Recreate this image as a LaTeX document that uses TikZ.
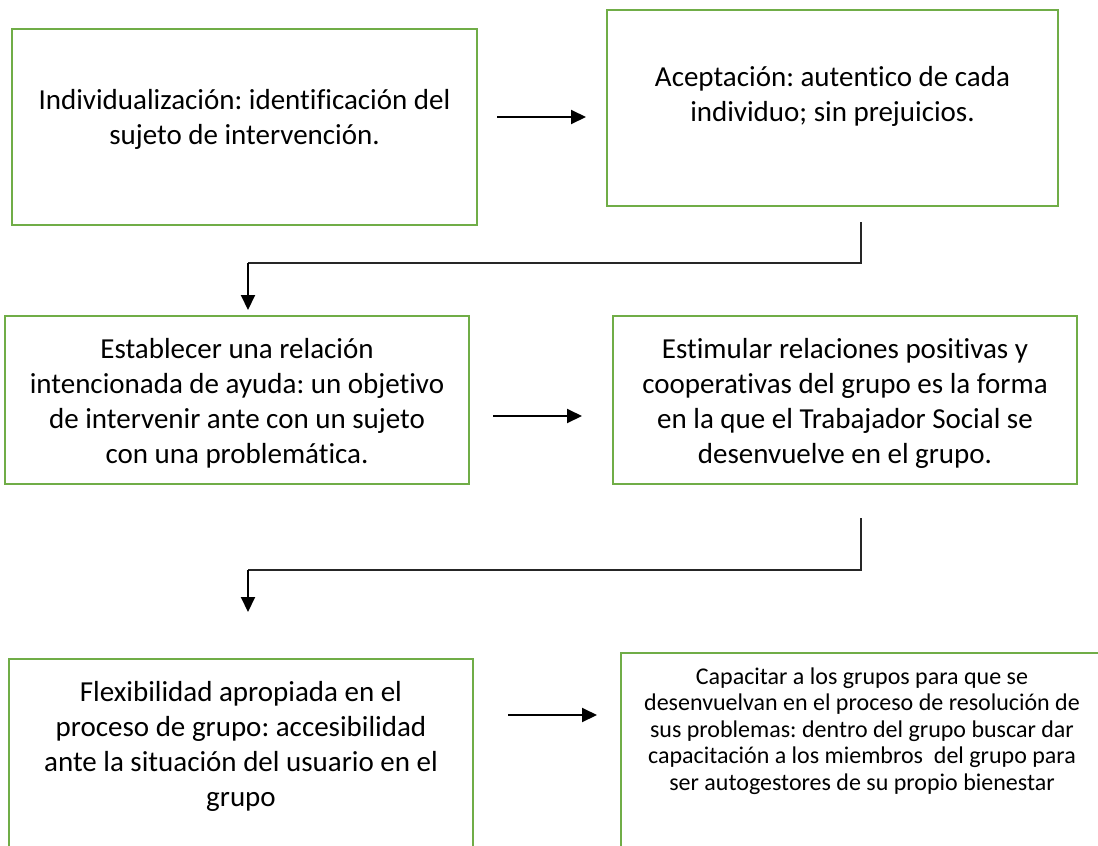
\documentclass[tikz,border=0pt]{standalone}
\usepackage{fontspec}
\setmainfont{Carlito}[Ligatures = NoCommon]
\usetikzlibrary{arrows.meta}
\usetikzlibrary{positioning}
\definecolor{mgreen}{rgb}{0.44, 0.68, 0.28}
\tikzset{box/.style = {draw = mgreen, line width = 2.4, inner sep = 0}}
\tikzset{txt/.style = {align = center, inner sep = 0, font = \frenchspacing\fontsize{29}{35}\selectfont}}
\tikzset{small/.style = {align = center, inner sep = 0, font = \frenchspacing\fontsize{24}{26.5}\selectfont}}
\tikzset{arr/.style = {line width = 2, -{Triangle[length = 15, width = 14]}}}
\tikzset{link/.style = {line width = 1.2, black!85}}

\begin{document}
\begin{tikzpicture}[x = 1pt, y = -1pt]
        \useasboundingbox (0, 0) rectangle (1098, 846);
        \clip (0, 0) rectangle (1098, 846);
        \node [box, minimum width = 465, minimum height = 196] (b1) at (244.5, 127) {};
        \node [box, minimum width = 451, minimum height = 196] (b2) at (832.5, 108) {};
        \node [box, minimum width = 464, minimum height = 168] (b3) at (237, 400) {};
        \node [box, minimum width = 464, minimum height = 168] (b4) at (845, 400) {};
        \node [box, minimum width = 464, minimum height = 242] (b5) at (241, 780) {};
        \node [box, minimum width = 498, minimum height = 247] (b6) at (870, 776.5) {};
        \node [txt] (t1) at (244.5, 119.5) {Individualización: identificación del\\sujeto de intervención.};
        \node [txt] (t2) at (832.5, 96) {Aceptación: autentico de cada\\individuo; sin prejuicios.};
        \node [txt] (t3) at (237, 403.5) {Establecer una relación\\intencionada de ayuda: un objetivo\\de intervenir ante con un sujeto\\con una problemática.};
        \node [txt] (t4) at (845, 403.5) {Estimular relaciones positivas y\\cooperativas del grupo es la forma\\en la que el Trabajador Social se\\desenvuelve en el grupo.};
        \node [txt] (t5) at (241, 746.5) {Flexibilidad apropiada en el\\proceso de grupo: accesibilidad\\ante la situación del usuario en el\\grupo};
        \node [small] (t6) at (862, 731) {Capacitar a los grupos para que se\\desenvuelvan en el proceso de resolución de\\sus problemas: dentro del grupo buscar dar\\capacitación a los miembros\ \ del grupo para\\ser autogestores de su propio bienestar};
        \coordinate (a1) at (497, 117);
        \coordinate (a2) at (586, 117);
        \coordinate (a3) at (493, 416);
        \coordinate (a4) at (582, 416);
        \coordinate (a5) at (508, 715);
        \coordinate (a6) at (597, 715);
        \draw [arr] (a1) -- (a2);
        \draw [arr] (a3) -- (a4);
        \draw [arr] (a5) -- (a6);
        \coordinate (k1) at (861, 222);
        \coordinate (k2) at (861, 263);
        \coordinate (k3) at (248, 263);
        \coordinate (k4) at (248, 310);
        \draw [link] (k1) -- (k2) -- (k3);
        \draw [arr] (k3) -- (k4);
        \coordinate (m1) at (861, 518);
        \coordinate (m2) at (861, 570);
        \coordinate (m3) at (248, 570);
        \coordinate (m4) at (248, 612);
        \draw [link] (m1) -- (m2) -- (m3);
        \draw [arr] (m3) -- (m4);
      \end{tikzpicture}
\end{document}
